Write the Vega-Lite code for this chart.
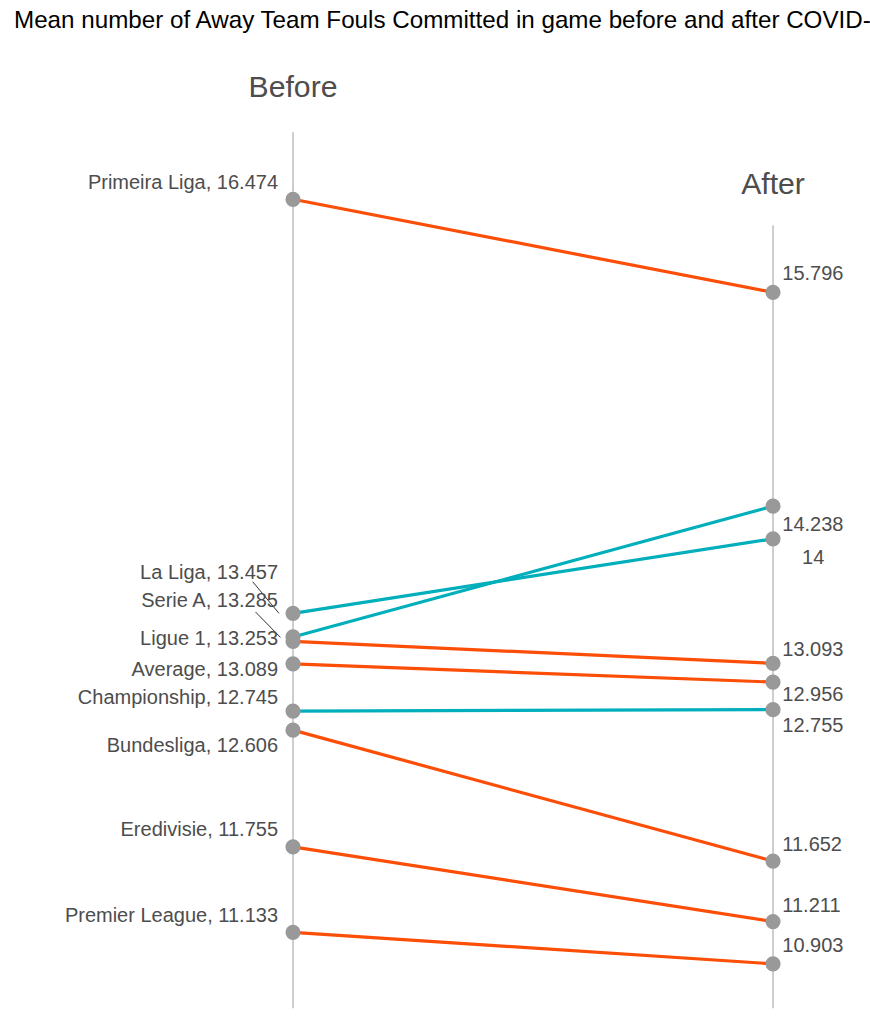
{
  "$schema": "https://vega.github.io/schema/vega-lite/v6.json",
  "width": 870,
  "height": 983,
  "autosize": "none",
  "padding": {"top": 40, "left": 0, "right": 0, "bottom": 0},
  "title": {
    "text": "Mean number of Away Team Fouls Committed in game before and after COVID-",
    "anchor": "start",
    "frame": "group",
    "fontSize": 24.2,
    "font": "Liberation Sans",
    "fontWeight": "normal",
    "color": "#000000",
    "baseline": "alphabetic",
    "dx": 14,
    "dy": 26,
    "offset": 14
  },
  "config": {"view": {"stroke": null}, "font": "Liberation Sans"},
  "data": {
    "values": [
      {"league": "Primeira Liga", "period": "Before", "value": 16.474, "trend": "decrease", "label": "Primeira Liga, 16.474"},
      {"league": "Primeira Liga", "period": "After", "value": 15.796, "trend": "decrease", "label": "15.796"},
      {"league": "La Liga", "period": "Before", "value": 13.457, "trend": "increase", "label": "La Liga, 13.457"},
      {"league": "La Liga", "period": "After", "value": 14.0, "trend": "increase", "label": "14"},
      {"league": "Serie A", "period": "Before", "value": 13.285, "trend": "increase", "label": "Serie A, 13.285"},
      {"league": "Serie A", "period": "After", "value": 14.238, "trend": "increase", "label": "14.238"},
      {"league": "Ligue 1", "period": "Before", "value": 13.253, "trend": "decrease", "label": "Ligue 1, 13.253"},
      {"league": "Ligue 1", "period": "After", "value": 13.093, "trend": "decrease", "label": "13.093"},
      {"league": "Average", "period": "Before", "value": 13.089, "trend": "decrease", "label": "Average, 13.089"},
      {"league": "Average", "period": "After", "value": 12.956, "trend": "decrease", "label": "12.956"},
      {"league": "Championship", "period": "Before", "value": 12.745, "trend": "increase", "label": "Championship, 12.745"},
      {"league": "Championship", "period": "After", "value": 12.755, "trend": "increase", "label": "12.755"},
      {"league": "Bundesliga", "period": "Before", "value": 12.606, "trend": "decrease", "label": "Bundesliga, 12.606"},
      {"league": "Bundesliga", "period": "After", "value": 11.652, "trend": "decrease", "label": "11.652"},
      {"league": "Eredivisie", "period": "Before", "value": 11.755, "trend": "decrease", "label": "Eredivisie, 11.755"},
      {"league": "Eredivisie", "period": "After", "value": 11.211, "trend": "decrease", "label": "11.211"},
      {"league": "Premier League", "period": "Before", "value": 11.133, "trend": "decrease", "label": "Premier League, 11.133"},
      {"league": "Premier League", "period": "After", "value": 10.903, "trend": "decrease", "label": "10.903"}
    ]
  },
  "encoding": {
    "x": {"field": "period", "type": "ordinal", "axis": null,
          "scale": {"type": "point", "domain": ["Before", "After"], "padding": 0.40625, "align": 0.7513}},
    "y": {"field": "value", "type": "quantitative", "axis": null,
          "scale": {"domain": [10.4721, 17.6347], "zero": false, "nice": false}}
  },
  "layer": [
    {
      "mark": {"type": "rule", "color": "#BEBEBE", "strokeWidth": 1.5, "yOffset": -67},
      "encoding": {
        "y": {"aggregate": "max", "field": "value", "type": "quantitative"},
        "y2": {"datum": 10.58}
      }
    },
    {
      "mark": {"type": "line", "strokeWidth": 3.2},
      "encoding": {
        "detail": {"field": "league"},
        "color": {"field": "trend", "type": "nominal", "legend": null,
                  "scale": {"domain": ["decrease", "increase"], "range": ["#FC4E07", "#00AFBB"]}}
      }
    },
    {
      "mark": {"type": "circle", "size": 230, "color": "#999999", "opacity": 1},
      "encoding": {}
    },
    {
      "transform": [{"filter": {"field": "period", "equal": "Before"}}],
      "mark": {"type": "text", "fontSize": 30.2, "color": "#4D4D4D", "align": "center", "baseline": "alphabetic", "dy": -102},
      "encoding": {"y": {"aggregate": "max", "field": "value", "type": "quantitative"}, "text": {"field": "period"}}
    },
    {
      "transform": [{"filter": {"field": "period", "equal": "After"}}],
      "mark": {"type": "text", "fontSize": 30.2, "color": "#4D4D4D", "align": "center", "baseline": "alphabetic", "dy": -98.4},
      "encoding": {"y": {"aggregate": "max", "field": "value", "type": "quantitative"}, "text": {"field": "period"}}
    },
    {
      "transform": [{"filter": {"and": [{"field": "period", "equal": "Before"}, {"field": "league", "oneOf": ["La Liga"]}]}}],
      "mark": {"type": "rule", "color": "#333333", "strokeWidth": 1, "xOffset": -14, "yOffset": 0, "x2Offset": -40.3, "y2Offset": -31.6},
      "encoding": {"x2": {"field": "period"}, "y2": {"field": "value"}}
    },
    {
      "transform": [{"filter": {"and": [{"field": "period", "equal": "Before"}, {"field": "league", "oneOf": ["Serie A"]}]}}],
      "mark": {"type": "rule", "color": "#333333", "strokeWidth": 1, "xOffset": -12.5, "yOffset": 0.5, "x2Offset": -37.5, "y2Offset": -25},
      "encoding": {"x2": {"field": "period"}, "y2": {"field": "value"}}
    },
    {
      "transform": [{"filter": {"and": [{"field": "period", "equal": "Before"}, {"field": "league", "oneOf": ["Primeira Liga", "Eredivisie", "Premier League"]}]}}],
      "mark": {"type": "text", "fontSize": 20, "color": "#4D4D4D", "align": "right", "baseline": "alphabetic", "dx": -15, "dy": -10.5},
      "encoding": {"text": {"field": "label"}}
    },
    {
      "transform": [{"filter": {"and": [{"field": "period", "equal": "Before"}, {"field": "league", "equal": "Championship"}]}}],
      "mark": {"type": "text", "fontSize": 20, "color": "#4D4D4D", "align": "right", "baseline": "alphabetic", "dx": -15, "dy": -6.7},
      "encoding": {"text": {"field": "label"}}
    },
    {
      "transform": [{"filter": {"and": [{"field": "period", "equal": "Before"}, {"field": "league", "equal": "La Liga"}]}}],
      "mark": {"type": "text", "fontSize": 20, "color": "#4D4D4D", "align": "right", "baseline": "alphabetic", "dx": -15, "dy": -34},
      "encoding": {"text": {"field": "label"}}
    },
    {
      "transform": [{"filter": {"and": [{"field": "period", "equal": "Before"}, {"field": "league", "equal": "Serie A"}]}}],
      "mark": {"type": "text", "fontSize": 20, "color": "#4D4D4D", "align": "right", "baseline": "alphabetic", "dx": -15, "dy": -29.8},
      "encoding": {"text": {"field": "label"}}
    },
    {
      "transform": [{"filter": {"and": [{"field": "period", "equal": "Before"}, {"field": "league", "equal": "Ligue 1"}]}}],
      "mark": {"type": "text", "fontSize": 20, "color": "#4D4D4D", "align": "right", "baseline": "alphabetic", "dx": -15, "dy": 3.7},
      "encoding": {"text": {"field": "label"}}
    },
    {
      "transform": [{"filter": {"and": [{"field": "period", "equal": "Before"}, {"field": "league", "equal": "Average"}]}}],
      "mark": {"type": "text", "fontSize": 20, "color": "#4D4D4D", "align": "right", "baseline": "alphabetic", "dx": -15, "dy": 12.6},
      "encoding": {"text": {"field": "label"}}
    },
    {
      "transform": [{"filter": {"and": [{"field": "period", "equal": "Before"}, {"field": "league", "equal": "Bundesliga"}]}}],
      "mark": {"type": "text", "fontSize": 20, "color": "#4D4D4D", "align": "right", "baseline": "alphabetic", "dx": -15, "dy": 22},
      "encoding": {"text": {"field": "label"}}
    },
    {
      "transform": [{"filter": {"and": [{"field": "period", "equal": "After"}, {"field": "league", "oneOf": ["Primeira Liga", "Premier League"]}]}}],
      "mark": {"type": "text", "fontSize": 20, "color": "#4D4D4D", "align": "left", "baseline": "alphabetic", "dx": 9.3, "dy": -12},
      "encoding": {"text": {"field": "label"}}
    },
    {
      "transform": [{"filter": {"and": [{"field": "period", "equal": "After"}, {"field": "league", "oneOf": ["Bundesliga", "Eredivisie"]}]}}],
      "mark": {"type": "text", "fontSize": 20, "color": "#4D4D4D", "align": "left", "baseline": "alphabetic", "dx": 9.3, "dy": -10},
      "encoding": {"text": {"field": "label"}}
    },
    {
      "transform": [{"filter": {"and": [{"field": "period", "equal": "After"}, {"field": "league", "equal": "Serie A"}]}}],
      "mark": {"type": "text", "fontSize": 20, "color": "#4D4D4D", "align": "left", "baseline": "alphabetic", "dx": 9.3, "dy": 24.8},
      "encoding": {"text": {"field": "label"}}
    },
    {
      "transform": [{"filter": {"and": [{"field": "period", "equal": "After"}, {"field": "league", "equal": "La Liga"}]}}],
      "mark": {"type": "text", "fontSize": 20, "color": "#4D4D4D", "align": "left", "baseline": "alphabetic", "dx": 29, "dy": 25.2},
      "encoding": {"text": {"field": "label"}}
    },
    {
      "transform": [{"filter": {"and": [{"field": "period", "equal": "After"}, {"field": "league", "equal": "Ligue 1"}]}}],
      "mark": {"type": "text", "fontSize": 20, "color": "#4D4D4D", "align": "left", "baseline": "alphabetic", "dx": 9.3, "dy": -7.7},
      "encoding": {"text": {"field": "label"}}
    },
    {
      "transform": [{"filter": {"and": [{"field": "period", "equal": "After"}, {"field": "league", "equal": "Average"}]}}],
      "mark": {"type": "text", "fontSize": 20, "color": "#4D4D4D", "align": "left", "baseline": "alphabetic", "dx": 9.3, "dy": 18.5},
      "encoding": {"text": {"field": "label"}}
    },
    {
      "transform": [{"filter": {"and": [{"field": "period", "equal": "After"}, {"field": "league", "equal": "Championship"}]}}],
      "mark": {"type": "text", "fontSize": 20, "color": "#4D4D4D", "align": "left", "baseline": "alphabetic", "dx": 9.3, "dy": 22.4},
      "encoding": {"text": {"field": "label"}}
    }
  ]
}
